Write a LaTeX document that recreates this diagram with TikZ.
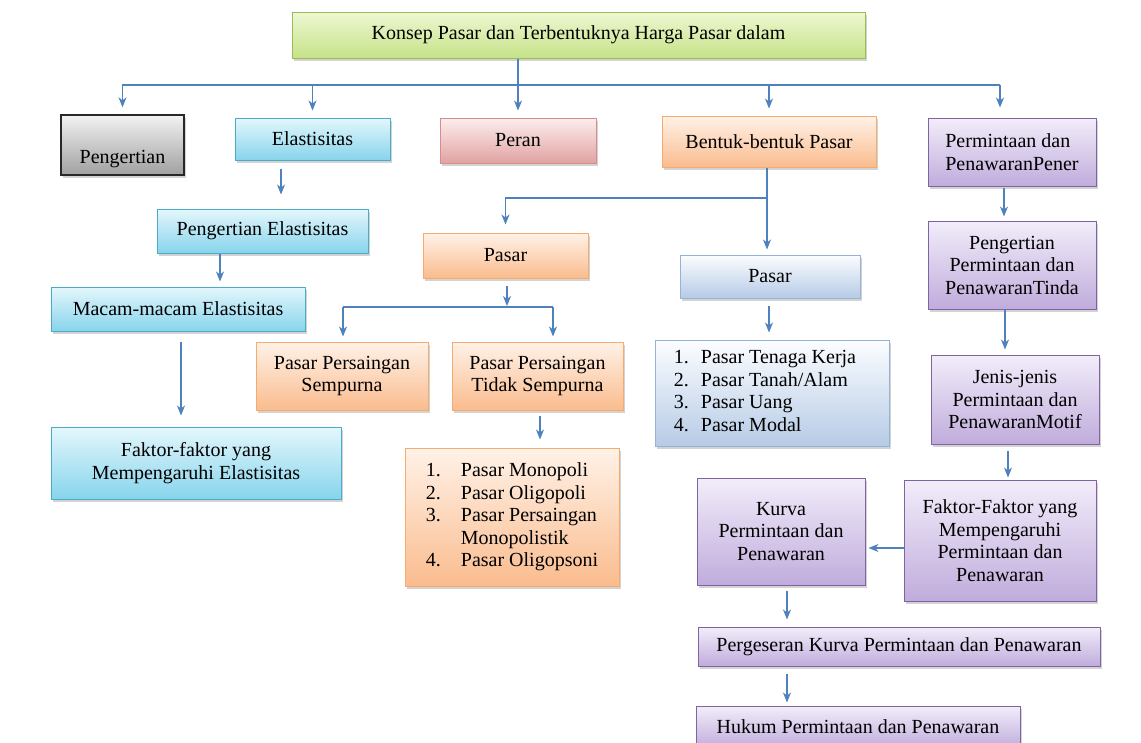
\documentclass[tikz,border=0pt]{standalone}
\usepackage{fontspec}
\setmainfont{Liberation Serif}
\usepackage{tikz}
\usetikzlibrary{arrows.meta,shadows}
\definecolor{arrowblue}{RGB}{79,129,189}
\definecolor{cyanedge}{RGB}{75,172,198}
\definecolor{cyantop}{RGB}{228,247,252}
\definecolor{cyanbot}{RGB}{135,212,236}
\definecolor{orangeedge}{RGB}{247,170,110}
\definecolor{orangetop}{RGB}{255,242,232}
\definecolor{orangebot}{RGB}{250,188,142}
\definecolor{purpleedge}{RGB}{128,100,162}
\definecolor{purpletop}{RGB}{242,237,250}
\definecolor{purplebot}{RGB}{192,172,220}
\definecolor{greenedge}{RGB}{155,187,89}
\definecolor{greentop}{RGB}{238,247,210}
\definecolor{greenbot}{RGB}{198,227,136}
\definecolor{rededge}{RGB}{217,140,140}
\definecolor{redtop}{RGB}{252,238,238}
\definecolor{redbot}{RGB}{226,162,162}
\definecolor{grayedge}{RGB}{40,40,40}
\definecolor{graytop}{RGB}{242,242,242}
\definecolor{graybot}{RGB}{160,160,160}
\definecolor{blueedge}{RGB}{149,179,215}
\definecolor{bluetop}{RGB}{252,253,255}
\definecolor{bluebot}{RGB}{182,203,230}
\tikzset{
    %Define standard arrow tip
    >={Stealth[length=10pt,width=8pt,inset=3pt]},
    %Define style for boxes
    box/.style={
           rectangle,
           line width=1pt,
           inner sep=2pt,
           align=center,
           font=\fontsize{20}{22.5}\selectfont,
           drop shadow={shadow xshift=2pt, shadow yshift=-3pt, opacity=0.35}},
    cyanbox/.style={box, draw=cyanedge, top color=cyantop, bottom color=cyanbot},
    orangebox/.style={box, draw=orangeedge, top color=orangetop, bottom color=orangebot},
    purplebox/.style={box, draw=purpleedge, top color=purpletop, bottom color=purplebot},
    greenbox/.style={box, draw=greenedge, top color=greentop, bottom color=greenbot},
    redbox/.style={box, draw=rededge, top color=redtop, bottom color=redbot},
    graybox/.style={box, draw=grayedge, line width=1.4pt, top color=graytop, bottom color=graybot},
    bluebox/.style={box, draw=blueedge, top color=bluetop, bottom color=bluebot},
    % Define arrow style
    lin/.style={
           line width=1.1pt,
           draw=arrowblue},
    pil/.style={
           ->,
           lin,
           shorten >=6pt}
}
\begin{document}
\begin{tikzpicture}[x=1pt,y=-1pt]
\useasboundingbox (0,0) rectangle (1141,742);
\clip (0,0) rectangle (1141,742);
% top row
\node[greenbox, minimum width=573pt, minimum height=46pt](title) at (578.5,35){Konsep Pasar dan Terbentuknya Harga Pasar dalam};
\node[graybox, minimum width=123pt, minimum height=60pt, text height=40pt, text depth=4pt](peng) at (122.5,145){Pengertian};
\node[cyanbox, minimum width=155pt, minimum height=42pt](elas) at (312.5,139){Elastisitas};
\node[redbox, minimum width=156pt, minimum height=45pt](peran) at (518,140.5){Peran};
\node[orangebox, minimum width=214pt, minimum height=51pt](bentuk) at (769,141.5){Bentuk-bentuk Pasar};
\node[purplebox, minimum width=168pt, minimum height=68pt, align=left](pener) at (1012,152){Permintaan dan\\PenawaranPener};
% elastisitas
\node[cyanbox, minimum width=211pt, minimum height=44pt](pengelas) at (262.5,231){Pengertian Elastisitas};
\node[cyanbox, minimum width=254pt, minimum height=44pt](macam) at (178,309){Macam-macam Elastisitas};
\node[cyanbox, minimum width=290pt, minimum height=72pt](faktorel) at (196,463){Faktor-faktor yang\\Mempengaruhi Elastisitas};
% bentuk pasar
\node[orangebox, minimum width=165pt, minimum height=45pt](pasarO) at (505.5,255.5){Pasar};
\node[orangebox, minimum width=172pt, minimum height=68pt](sempurna) at (342,376){Pasar Persaingan\\Sempurna};
\node[orangebox, minimum width=171pt, minimum height=68pt](tidak) at (537.5,376){Pasar Persaingan\\Tidak Sempurna};
\node[orangebox, minimum width=214pt, minimum height=138pt](listO) at (512,517){%
  \begin{tabular}{@{}l@{\hspace{20pt}}l@{}}
  1. & Pasar Monopoli\\
  2. & Pasar Oligopoli\\
  3. & Pasar Persaingan\\
     & Monopolistik\\
  4. & Pasar Oligopsoni
  \end{tabular}};
\node[bluebox, minimum width=180pt, minimum height=43pt](pasarB) at (770,276.5){Pasar};
\node[bluebox, minimum width=234pt, minimum height=106pt](listB) at (772,393){%
  \hspace{-14pt}\begin{tabular}{@{}l@{\hspace{12pt}}l@{}}
  1. & Pasar Tenaga Kerja\\
  2. & Pasar Tanah/Alam\\
  3. & Pasar Uang\\
  4. & Pasar Modal
  \end{tabular}};
% permintaan dan penawaran
\node[purplebox, minimum width=168pt, minimum height=88pt](pengPT) at (1012,265){Pengertian\\Permintaan dan\\PenawaranTinda};
\node[purplebox, minimum width=168pt, minimum height=89pt](jenis) at (1015,399.5){Jenis-jenis\\Permintaan dan\\PenawaranMotif};
\node[purplebox, minimum width=192pt, minimum height=121pt](faktorPT) at (1000,540.5){Faktor-Faktor yang\\Mempengaruhi\\Permintaan dan\\Penawaran};
\node[purplebox, minimum width=168pt, minimum height=107pt](kurva) at (781,531.5){Kurva\\Permintaan dan\\Penawaran};
\node[purplebox, minimum width=402pt, minimum height=39pt](perges) at (899,646.5){Pergeseran Kurva Permintaan dan Penawaran};
\node[purplebox, minimum width=324pt, minimum height=42pt](hukum) at (858,727){Hukum Permintaan dan Penawaran};
% connectors
\coordinate (barL) at (122,85);
\coordinate (barR) at (1000,85);
\coordinate (bj) at (767,198);
\coordinate (bar2L) at (343,307);
\coordinate (bar2R) at (553,307);
\draw[lin] (barL) -- (barR);
\draw[pil, shorten >=7pt] (title.south -| peran.north) -- (peran.north);
\foreach \n in {peng,elas,bentuk}
  \draw[pil, shorten >=7pt] (\n.north |- barL) -- (\n.north);
\draw[pil, shorten >=10pt] (barR) -- (pener.north -| barR);
\draw[pil, shorten <=8pt, shorten >=14pt] (elas.south -| 281,0) -- (pengelas.north -| 281,0);
\draw[pil, shorten >=5pt] (pengelas.south -| 220,0) -- (macam.north -| 220,0);
\draw[pil, shorten <=10pt, shorten >=11pt] (macam.south -| 181,0) -- (faktorel.north -| 181,0);
\draw[pil, shorten >=5pt] (bentuk.south -| bj) -- (pasarB.north -| bj);
\draw[pil, shorten >=8pt] (bj) -| (pasarO.north);
\draw[pil, shorten <=7pt, shorten >=1pt] (pasarO.south -| 507,0) -- (bar2L -| 507,0);
\draw[lin] (bar2L) -- (bar2R);
\draw[pil, shorten >=5pt] (bar2L) -- (sempurna.north -| bar2L);
\draw[pil, shorten >=5pt] (bar2R) -- (tidak.north -| bar2R);
\draw[pil, shorten <=5pt, shorten >=8pt] (tidak.south -| 540,0) -- (listO.north -| 540,0);
\draw[pil, shorten <=7pt, shorten >=7pt] (pasarB.south -| 769,0) -- (listB.north -| 769,0);
\draw[pil, shorten <=1pt, shorten >=4pt] (pener.south -| 1004,0) -- (pengPT.north -| 1004,0);
\draw[pil, shorten >=5pt] (pengPT.south -| 1005,0) -- (jenis.north -| 1005,0);
\draw[pil, shorten <=6pt, shorten >=2pt] (jenis.south -| 1008,0) -- (faktorPT.north -| 1008,0);
\draw[pil, shorten >=3pt] (faktorPT.west |- 0,548) -- (kurva.east |- 0,548);
\draw[pil, shorten <=5pt, shorten >=7pt] (kurva.south -| 787,0) -- (perges.north -| 787,0);
\draw[pil, shorten <=7pt, shorten >=3pt] (perges.south -| 787,0) -- (hukum.north -| 787,0);
\end{tikzpicture}
\end{document}
